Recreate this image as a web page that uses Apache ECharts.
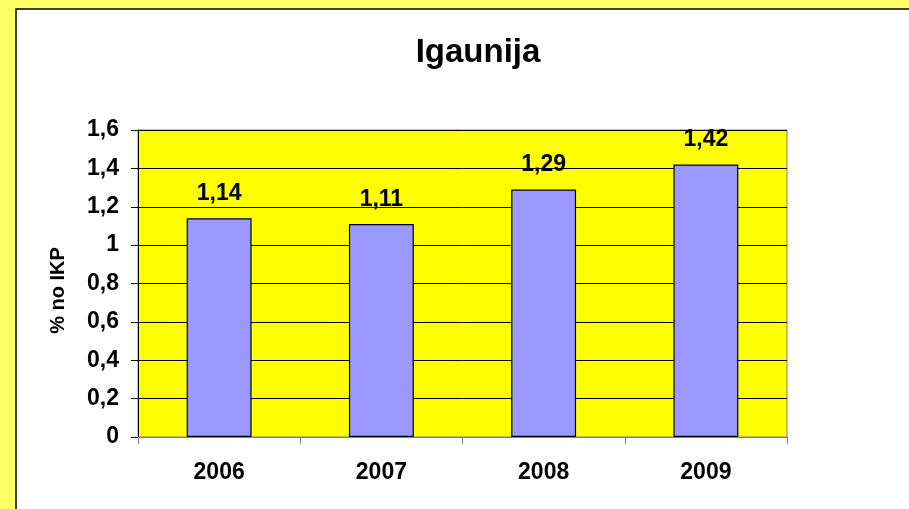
<!DOCTYPE html>
<html>
<head>
<meta charset="utf-8">
<script src="https://cdn.jsdelivr.net/npm/echarts@6/dist/echarts.min.js"></script>
<style>
  html, body { margin: 0; padding: 0; background: #ffff66; }
  #chart { width: 909px; height: 509px; }
</style>
</head>
<body>
<div id="chart"></div>
<script>
  // dati
  var years = ['2006', '2007', '2008', '2009'];
  var values = [1.14, 1.11, 1.29, 1.42];

  var font = 'Arial, "Liberation Sans", sans-serif';
  function comma(v) { return String(v).replace('.', ','); }

  var chart = echarts.init(document.getElementById('chart'));
  var option = {
    backgroundColor: '#ffff66',
    animation: false,
    graphic: [
      {
        type: 'rect',
        z: -10,
        shape: { x: 16, y: 9, width: 920, height: 520 },
        style: { fill: '#ffffff', stroke: '#000000', lineWidth: 1.5 }
      }
    ],
    title: {
      text: 'Igaunija',
      left: 473,
      textAlign: 'center',
      top: 31,
      textStyle: { fontFamily: font, fontWeight: 'bold', fontSize: 33, color: '#000' }
    },
    grid: {
      left: 138,
      right: 122,
      top: 130,
      bottom: 72,
      show: true,
      backgroundColor: '#ffff00',
      borderColor: '#808080',
      borderWidth: 1
    },
    xAxis: {
      type: 'category',
      data: years,
      axisLine: { lineStyle: { color: '#808080', width: 1 } },
      axisTick: { show: true, length: 7, lineStyle: { color: '#808080' } },
      axisLabel: { margin: 24, fontFamily: font, fontWeight: 'bold', fontSize: 23, color: '#000' }
    },
    yAxis: {
      type: 'value',
      min: 0,
      max: 1.6,
      interval: 0.2,
      name: '% no IKP',
      nameLocation: 'middle',
      nameGap: 70,
      nameTextStyle: {
        fontFamily: font, fontWeight: 'bold', fontSize: 20, color: '#000',
        padding: [0, 14, 0, 0]
      },
      axisLine: { show: true, lineStyle: { color: '#000', width: 1 } },
      axisTick: { show: true, length: 7, lineStyle: { color: '#000' } },
      axisLabel: {
        margin: 19,
        fontFamily: font, fontWeight: 'bold', fontSize: 23, color: '#000',
        formatter: function (v) { return comma(Math.round(v * 10) / 10); }
      },
      splitLine: { show: true, lineStyle: { color: '#000', width: 1 } }
    },
    series: [
      {
        type: 'bar',
        data: values,
        barWidth: '40%',
        itemStyle: { color: '#9999ff', borderColor: '#000', borderWidth: 1.2 },
        label: {
          show: true,
          position: 'top',
          distance: 13,
          fontFamily: font, fontWeight: 'bold', fontSize: 23, color: '#000',
          formatter: function (p) { return comma(p.value.toFixed(2)); }
        }
      }
    ]
  };
  chart.setOption(option);
</script>
</body>
</html>
